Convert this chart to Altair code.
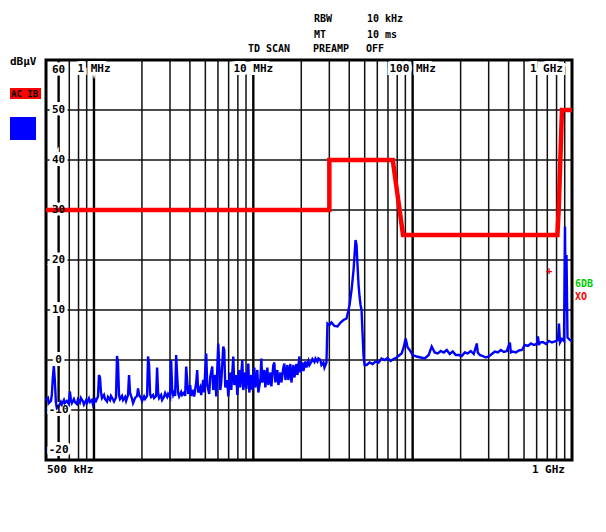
import altair as alt
import pandas as pd

# ---------------- data ----------------
trace_mhz = [
    0.5, 0.514, 0.521, 0.537, 0.544, 0.552, 0.560, 0.568, 0.577, 0.585, 0.602, 0.620, 0.629, 0.648, 0.657,
    0.676, 0.696, 0.706, 0.717, 0.727, 0.748, 0.760, 0.782, 0.793, 0.816, 0.828, 0.853, 0.865, 0.891, 0.904,
    0.930, 0.944, 0.971, 0.986, 1.015, 1.029, 1.060, 1.075, 1.091, 1.107, 1.123, 1.156, 1.173, 1.207, 1.225,
    1.261, 1.279, 1.317, 1.336, 1.375, 1.395, 1.415, 1.436, 1.457, 1.500, 1.522, 1.567, 1.590, 1.636, 1.660,
    1.684, 1.734, 1.759, 1.811, 1.864, 1.891, 1.919, 1.975, 2.004, 2.063, 2.094, 2.154, 2.186, 2.218, 2.250,
    2.283, 2.350, 2.384, 2.455, 2.490, 2.526, 2.564, 2.638, 2.677, 2.756, 2.796, 2.878, 2.920, 3.006, 3.050,
    3.094, 3.140, 3.185, 3.231, 3.280, 3.327, 3.375, 3.424, 3.525, 3.576, 3.681, 3.735, 3.790, 3.845, 3.901,
    4.018, 4.074, 4.195, 4.255, 4.382, 4.444, 4.511, 4.642, 4.710, 4.848, 4.919, 4.991, 5.063, 5.137, 5.288,
    5.365, 5.523, 5.603, 5.768, 5.852, 6.024, 6.112, 6.201, 6.292, 6.477, 6.571, 6.668, 6.863, 6.963, 7.168,
    7.271, 7.486, 7.594, 7.818, 7.932, 8.166, 8.283, 8.528, 8.651, 8.907, 9.036, 9.302, 9.437, 9.714, 9.856,
    10.15, 10.29, 10.60, 10.75, 11.07, 11.23, 11.39, 11.73, 11.90, 12.25, 12.43, 12.79, 12.98, 13.36, 13.56,
    13.75, 14.16, 14.37, 14.79, 15.00, 15.45, 15.67, 15.90, 16.37, 16.60, 17.09, 17.34, 17.85, 18.11, 18.64,
    18.91, 19.47, 19.75, 20.33, 20.63, 21.23, 21.54, 22.18, 22.50, 23.16, 23.50, 24.19, 24.55, 25.26, 25.63,
    26.38, 26.77, 27.56, 27.96, 28.78, 29.20, 30.06, 30.94, 32.31, 33.75, 35.25, 36.81, 38.45, 39.58, 40.16,
    41.35, 42.56, 43.19, 43.82, 44.45, 45.11, 45.77, 46.42, 47.10, 47.78, 48.48, 49.19, 49.91, 51.37, 53.66,
    56.03, 58.53, 61.13, 63.83, 66.67, 69.63, 72.70, 75.94, 79.32, 82.83, 85.28, 87.78, 90.37, 93.03, 95.74,
    100.0, 105.97, 112.3, 119.0, 126.1, 131.7, 137.5, 143.7, 150.0, 156.7, 163.7, 170.9, 178.5, 186.4, 194.7,
    203.3, 212.3, 221.8, 231.6, 241.9, 252.6, 256.3, 263.8, 275.6, 287.8, 300.6, 313.9, 327.9, 342.4, 357.6,
    373.5, 390.1, 407.4, 413.4, 425.5, 444.4, 464.2, 484.8, 506.3, 528.8, 552.3, 576.8, 602.4, 611.3, 620.2,
    629.2, 657.1, 686.3, 716.8, 748.6, 781.8, 816.6, 828.3, 840.6, 865.2, 890.7, 903.7, 912.9, 923.5, 937.1,
    971.4, 1000.0,
]
trace_dbuv = [
    -8.0, -7.6, -8.6, -8.2, -7.0, -3.5, -1.2, -4.0, -8.5, -9.6, -9.2, -8.4, -8.9, -8.0, -8.6,
    -8.2, -8.8, -6.3, -8.0, -8.6, -7.8, -8.4, -8.8, -7.9, -8.5, -7.6, -8.3, -8.9, -8.1, -8.6,
    -7.7, -8.4, -8.0, -8.9, -7.9, -8.2, -7.3, -3.0, -3.5, -6.5, -7.6, -7.0, -7.8, -8.3, -7.4,
    -8.0, -7.2, -7.9, -8.3, -7.5, 0.8, -0.5, -7.0, -7.8, -7.2, -8.0, -7.4, -8.2, -7.0, -3.0,
    -6.5, -7.8, -8.6, -7.6, -7.2, -5.7, -7.0, -7.6, -8.2, -7.3, -7.8, -7.2, 0.7, -1.0, -6.8,
    -7.4, -7.0, -7.6, -7.2, -1.5, -6.5, -7.6, -7.0, -8.0, -7.3, -6.6, -7.4, -6.8, -7.5, 0.0,
    -6.0, -7.0, -6.5, -7.2, 1.0, -3.0, -6.6, -7.3, -6.4, -7.0, -6.5, -7.2, -1.3, -4.0, -6.8,
    -5.0, -7.2, -6.0, -7.3, -4.5, -2.0, -6.5, -5.5, -7.0, -4.0, -6.5, -2.0, 1.3, -5.0, -6.8,
    -3.5, -1.3, -6.0, -3.0, -7.3, 3.3, -1.0, -6.0, -4.5, 2.7, 2.0, -5.5, -4.0, -7.3, -2.5,
    -6.0, 0.7, -5.0, -3.0, -7.0, -2.0, -5.5, 0.0, -6.0, -2.5, -5.8, -0.7, -6.5, -3.0, -6.0,
    -1.5, -5.5, -2.0, -6.5, -4.0, 0.3, -4.5, -2.0, -5.5, -1.5, -5.0, -2.5, -5.3, -1.0, -0.5,
    -4.5, -2.0, -5.0, -2.5, -4.5, -1.5, -0.7, -4.0, -1.0, -4.0, -0.8, -4.5, -1.0, -3.5, -0.8,
    -3.0, 0.7, -2.5, -0.5, -2.2, -0.3, -1.5, -0.2, -1.0, -0.3, 0.2, -0.4, 0.3, -0.3, 0.3,
    0.0, -1.0, -0.5, -1.5, -0.5, 7.3, 7.0, 7.5, 6.8, 6.7, 7.5, 8.0, 8.3, 10.0, 11.0,
    14.0, 18.0, 21.0, 24.0, 23.0, 18.7, 15.0, 12.7, 11.0, 10.0, 5.3, 0.7, -1.0, -1.0, -0.5,
    -0.8, -0.3, -0.5, 0.3, 0.0, 0.4, -0.2, 0.2, 0.5, 1.0, 1.3, 2.5, 4.3, 2.5, 2.0,
    1.0, 0.7, 0.5, 0.3, 1.0, 2.7, 1.5, 1.3, 1.8, 1.5, 2.0, 1.2, 1.7, 1.0, 1.0,
    0.8, 1.5, 1.3, 1.8, 1.2, 3.3, 1.5, 1.0, 0.8, 0.5, 0.7, 1.2, 1.7, 1.5, 2.0,
    1.6, 1.8, 3.5, 1.5, 1.7, 1.5, 1.9, 2.0, 3.0, 2.8, 3.3, 3.0, 3.2, 4.7, 3.0,
    3.5, 3.6, 3.2, 3.8, 3.5, 3.7, 4.0, 7.3, 3.5, 4.2, 3.8, 26.7, 10.0, 21.0, 4.5,
    4.0, 3.8,
]
limit_mhz = [0.5, 30, 30, 75, 87, 810, 825, 865, 1000]
limit_dbuv = [30, 30, 40, 40, 25, 25, 30, 50, 50]
marker_mhz = [717]
marker_dbuv = [17.9]

thin_grid_mhz = [0.7, 0.8, 0.9, 2, 3, 4, 5, 6, 7, 8, 9, 20, 30, 40, 50, 60, 70, 80, 90,
                 200, 300, 400, 500, 600, 700, 800, 900]
thick_grid_mhz = [0.6, 1, 10, 100]
level_grid = [-10, 0, 10, 20, 30, 40, 50]
y_tick_values = [60, 50, 40, 30, 20, 10, 0, -10, -20]
y_tick_labels = ["60", "50", "40", "30", "20", "10", "0", "-10", "-20"]
top_label_mhz = [1, 10, 100]
top_labels = ["1 MHz", "10 MHz", "100 MHz"]

# ---------------- chart ----------------
FONT = "DejaVu Sans Mono"
W, H = 526, 400
xs = alt.Scale(type="log", domain=[0.5, 1000], nice=False)
ys = alt.Scale(domain=[-20, 60], nice=False, zero=False)
X = lambda f: alt.X(f, type="quantitative", scale=xs, axis=None)
Y = lambda f: alt.Y(f, type="quantitative", scale=ys, axis=None)

trace_df = pd.DataFrame({"f": trace_mhz, "L": trace_dbuv, "i": range(len(trace_mhz))})
limit_df = pd.DataFrame({"f": limit_mhz, "L": limit_dbuv, "i": range(len(limit_mhz))})
marker_df = pd.DataFrame({"f": marker_mhz, "L": marker_dbuv})
ytick_df = pd.DataFrame({"v": y_tick_values, "t": y_tick_labels, "f": [0.6] * len(y_tick_values)})
top_df = pd.DataFrame({"f": top_label_mhz, "t": top_labels})

thin_grid = alt.Chart(pd.DataFrame({"f": thin_grid_mhz})).mark_rule(
    color="#111111", strokeWidth=1.5).encode(x=X("f"))
thick_grid = alt.Chart(pd.DataFrame({"f": thick_grid_mhz})).mark_rule(
    color="#000000", strokeWidth=2.4).encode(x=X("f"))
h_grid = alt.Chart(pd.DataFrame({"L": level_grid})).mark_rule(
    color="#111111", strokeWidth=1.5).encode(y=Y("L"))


def halo_text(df_chart, baseline, dy=0, align="center", dx=0):
    halo = df_chart.mark_text(font=FONT, fontSize=11, fontWeight="bold", fill="white",
                              stroke="white", strokeWidth=6, baseline=baseline,
                              align=align, dy=dy, dx=dx)
    fg = df_chart.mark_text(font=FONT, fontSize=11, fontWeight="bold", color="black",
                            baseline=baseline, align=align, dy=dy, dx=dx)
    return halo, fg


base_y = alt.Chart(ytick_df).encode(x=X("f"), y=Y("v"), text="t:N")
mid_h, mid_f = halo_text(base_y.transform_filter("datum.v < 60 && datum.v > -20"), "middle")
top_h, top_f = halo_text(base_y.transform_filter("datum.v == 60"), "top", dy=4)
bot_h, bot_f = halo_text(base_y.transform_filter("datum.v == -20"), "bottom", dy=-5)

base_top = alt.Chart(top_df).encode(x=X("f"), y=alt.value(9), text="t:N")
tl_h, tl_f = halo_text(base_top, "middle")
ghz_base = alt.Chart(pd.DataFrame({"f": [1000], "t": ["1 GHz"]})).encode(
    x=X("f"), y=alt.value(9), text="t:N")
gh_h, gh_f = halo_text(ghz_base, "middle", align="right", dx=-9)

limit_line = alt.Chart(limit_df).mark_line(color="#ff0000", strokeWidth=4.5).encode(
    x=X("f"), y=Y("L"), order="i:Q")
trace_line = alt.Chart(trace_df).mark_line(color="#0000ff", strokeWidth=2.4).encode(
    x=X("f"), y=Y("L"), order="i:Q")
marker = alt.Chart(marker_df).mark_text(
    text="+", font=FONT, fontSize=11, fontWeight="bold", color="#ff0000",
    baseline="middle", align="center").encode(x=X("f"), y=Y("L"))

bottom_left = alt.Chart(pd.DataFrame({"f": [0.5], "t": ["500 kHz"]})).mark_text(
    font=FONT, fontSize=11, fontWeight="bold", align="left", baseline="middle", dx=1
).encode(x=X("f"), y=alt.value(H + 10), text="t:N")
bottom_right = alt.Chart(pd.DataFrame({"f": [1000], "t": ["1 GHz"]})).mark_text(
    font=FONT, fontSize=11, fontWeight="bold", align="right", baseline="middle", dx=-7
).encode(x=X("f"), y=alt.value(H + 10), text="t:N")


def note(text, x, y, color="black", size=10, align="left"):
    return alt.Chart(alt.Data(values=[{}])).mark_text(
        text=text, font=FONT, fontSize=size, fontWeight="bold", color=color,
        align=align, baseline="middle").encode(x=alt.value(x), y=alt.value(y))


def box(x1, x2, y1, y2, color):
    return alt.Chart(alt.Data(values=[{}])).mark_rect(color=color).encode(
        x=alt.value(x1), x2=alt.value(x2), y=alt.value(y1), y2=alt.value(y2))


notes = [
    note("RBW", 268, -41), note("10 kHz", 321, -41),
    note("MT", 268, -25), note("10 ms", 321, -25),
    note("PREAMP", 267, -11), note("OFF", 320, -11),
    note("TD SCAN", 202, -11),
    note("dBµV", -36, 2, size=11),
    box(-36, -5, 28, 39, "#ff0000"),
    note("AC IB", -35, 33.5, color="#000000", size=9),
    box(-36, -10, 57, 80, "#0000ff"),
    note("6DB", 529, 224, color="#00cc00"),
    note("XO", 529, 237, color="#ff0000"),
]

chart = alt.layer(
    thin_grid, thick_grid, h_grid,
    mid_h, top_h, bot_h, tl_h, gh_h,
    trace_line, limit_line, marker,
    mid_f, top_f, bot_f, tl_f, gh_f,
    bottom_left, bottom_right,
    *notes,
).properties(
    width=W, height=H,
    autosize=alt.AutoSizeParams(type="none"),
    padding={"left": 38, "top": 52, "right": 26, "bottom": 64},
    background="white",
).configure_view(stroke="black", strokeWidth=3)

chart.save("out.html", embed_options={"renderer": "svg", "actions": False})
